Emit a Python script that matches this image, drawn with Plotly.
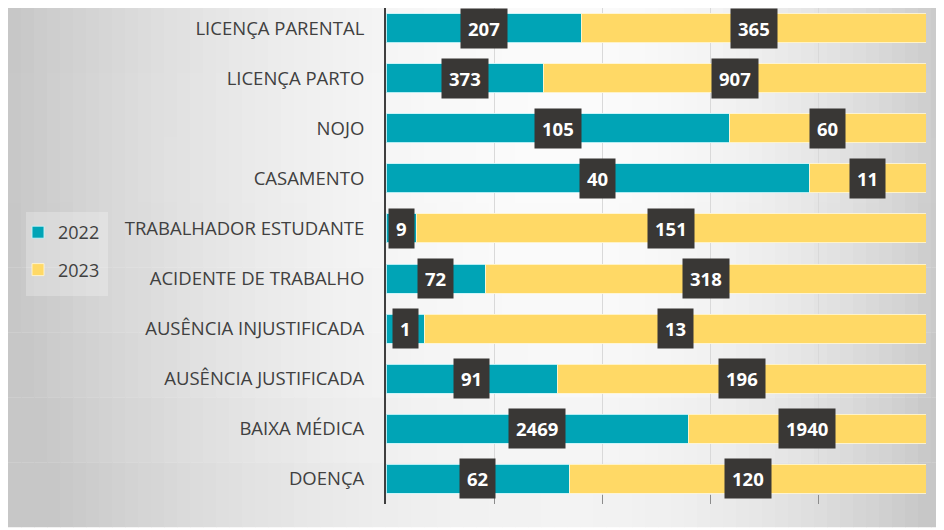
import plotly.graph_objects as go

categories = ["LICENÇA PARENTAL", "LICENÇA PARTO", "NOJO", "CASAMENTO",
              "TRABALHADOR ESTUDANTE", "ACIDENTE DE TRABALHO",
              "AUSÊNCIA INJUSTIFICADA", "AUSÊNCIA JUSTIFICADA",
              "BAIXA MÉDICA", "DOENÇA"]
v2022 = [207, 373, 105, 40, 9, 72, 1, 91, 2469, 62]
v2023 = [365, 907, 60, 11, 151, 318, 13, 196, 1940, 120]
series_names = ["2022", "2023"]

W, H = 944, 530
TEAL = "#00A4B6"
GOLD = "#FFD966"
FONT = "Open Sans"

fig = go.Figure()
fig.add_trace(go.Bar(y=categories, x=v2022, name=series_names[0], orientation="h",
                     marker=dict(color=TEAL, line=dict(color="rgba(200,245,250,0.9)", width=1)),
                     legendgroup="a", hoverinfo="x+y"))
fig.add_trace(go.Bar(y=categories, x=v2023, name=series_names[1], orientation="h",
                     marker=dict(color=GOLD, line=dict(color="rgba(255,245,210,0.9)", width=1)),
                     legendgroup="b", hoverinfo="x+y"))

# data labels in dark boxes at segment centres
annotations = []
for cat, a, b in zip(categories, v2022, v2023):
    tot = a + b
    for xc, val in ((a / tot / 2, a), (a / tot + b / tot / 2, b)):
        annotations.append(dict(x=xc, y=cat, xref="x", yref="y", text=f"<b>{val}</b>",
                                showarrow=False, bgcolor="#393735", borderpad=7,
                                font=dict(family=FONT, size=18.5, color="white")))

# background gradient (grey edges, light centre) - figure pixel coords
shapes = []
x_left, x_right = 0, 936
y_top, y_bot = 0, 519
ncols, nrows = 72, 8
gxc, gyc = 562, 142
for i in range(ncols):
    px0 = x_left + (x_right - x_left) * i / ncols
    px1 = x_left + (x_right - x_left) * (i + 1) / ncols
    mx = (px0 + px1) / 2
    ax = 560 if mx < gxc else 385
    for j in range(nrows):
        py0 = y_top + (y_bot - y_top) * j / nrows
        py1 = y_top + (y_bot - y_top) * (j + 1) / nrows
        my = (py0 + py1) / 2
        r2 = ((mx - gxc) / ax) ** 2 + ((my - gyc) / 860) ** 2
        c = int(round(max(199, 251 - 52 * r2)))
        shapes.append(dict(type="rect", xref="paper", yref="paper", layer="below",
                           x0=px0 / W, x1=px1 / W + 0.0006,
                           y0=1 - py1 / H - 0.0006, y1=1 - py0 / H,
                           fillcolor=f"rgb({c},{c},{c})", line=dict(width=0)))
# legend background
shapes.append(dict(type="rect", xref="paper", yref="paper", layer="below",
                   x0=18 / W, x1=100 / W, y0=1 - 288 / H, y1=1 - 204 / H,
                   fillcolor="rgba(255,255,255,0.25)", line=dict(width=0)))

fig.update_layout(
    width=W, height=H,
    margin=dict(l=0, r=0, t=0, b=0),
    paper_bgcolor="white", plot_bgcolor="rgba(0,0,0,0)",
    barmode="stack", barnorm="fraction", bargap=0.42,
    font=dict(family=FONT, color="#404040"),
    xaxis=dict(domain=[378 / W, 918 / W], range=[0, 1], dtick=0.2,
               showgrid=True, gridcolor="#d9d9d9", gridwidth=1,
               showticklabels=False, ticks="inside", ticklen=9,
               tickcolor="#8c8c8c", tickwidth=1, zeroline=False, showline=False,
               fixedrange=True),
    yaxis=dict(domain=[1 - 496 / H, 1], range=[9.5, -0.4],
               showline=True, linecolor="#3f3f3f", linewidth=2,
               showgrid=False, ticks="", ticklabelstandoff=16,
               tickfont=dict(family=FONT, size=18.5, color="#404040"),
               fixedrange=True),
    legend=dict(x=10 / W, y=1 - 206 / H, xanchor="left", yanchor="top",
                bgcolor="rgba(0,0,0,0)", font=dict(family=FONT, size=18, color="#404040"),
                traceorder="grouped", tracegroupgap=11, itemwidth=30),
    annotations=annotations,
    shapes=shapes,
    showlegend=True,
)

fig.write_html("out.html")
